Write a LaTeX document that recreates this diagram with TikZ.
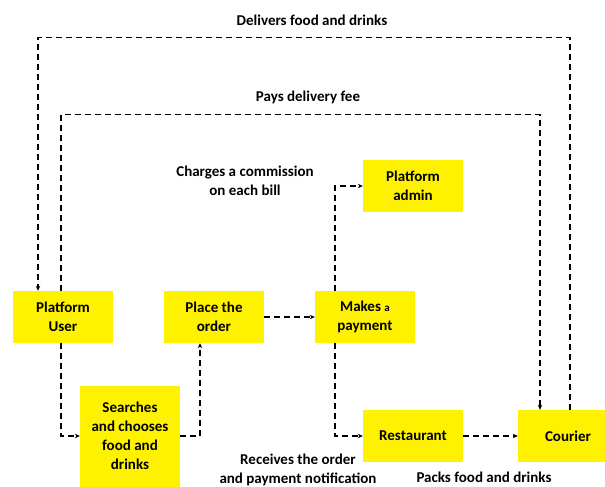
\documentclass[tikz,border=0pt]{standalone}
\usepackage{fontspec}
\setmainfont{Carlito}
\usetikzlibrary{arrows.meta}
\begin{document}
\begin{tikzpicture}[x=1pt, y=-1pt,
  box/.style={fill=yellow, minimum width=100pt, minimum height=52pt, inner sep=2pt, align=center},
  link/.style={dash pattern=on 6pt off 4pt, line width=1.3pt, -{Stealth[length=5pt, width=4.5pt]}},
  lbl/.style={align=center},
  every node/.style={font=\fontsize{15}{19}\selectfont\bfseries}]
  \useasboundingbox (0,0) rectangle (605,487);
  % boxes
  \node[box] (user) at (63,317) {Platform\\User};
  \node[box] (place) at (214,317) {Place the\\order};
  \node[box] (pay) at (365,317) {Makes {\fontsize{11}{19}\selectfont a}\\payment};
  \node[box] (admin) at (413,186) {Platform\\admin};
  \node[box, minimum height=101pt] (search) at (130,436) {Searches\\and chooses\\food and\\drinks};
  \node[box] (rest) at (413,436) {Restaurant};
  \node[box] (courier) at (568,436) {Courier};
  % labels
  \node[lbl] (deliv) at (312,20) {Delivers food and drinks};
  \node[lbl] (fee) at (308,97) {Pays delivery fee};
  \node[lbl] (comm) at (245,181) {Charges a commission\\on each bill};
  \node[lbl] (recv) at (298,470) {Receives the order\\and payment notification};
  \node[lbl] (packs) at (484,477) {Packs food and drinks};
  % connectors
  \draw[link] ([xshift=2pt]courier.north) -- ++(0,-372) -| ([xshift=-25pt]user.north);
  \draw[link] ([xshift=-2pt]user.north) -- ++(0,-176) -| ([xshift=-28pt]courier.north);
  \draw[link] ([xshift=-2pt]user.south) |- (search.west);
  \draw[link] (search.east) -| ([xshift=-14pt]place.south);
  \draw[link] (place.east) -- (pay.west);
  \draw[link] ([xshift=-30pt]pay.north) |- (admin.west);
  \draw[link] ([xshift=-30pt]pay.south) |- (rest.west);
  \draw[link] (rest.east) -- (courier.west);
\end{tikzpicture}
\end{document}
